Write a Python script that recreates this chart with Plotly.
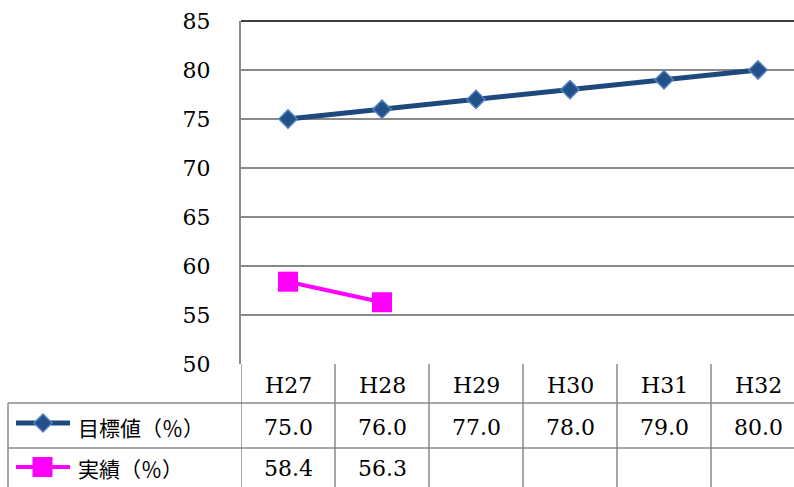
import plotly.graph_objects as go

years = ["H27", "H28", "H29", "H30", "H31", "H32"]
target = [75.0, 76.0, 77.0, 78.0, 79.0, 80.0]
actual = [58.4, 56.3]
target_name = "目標値（％）"
actual_name = "実績（％）"

W, H = 794, 487
L, T, B = 241, 21, 123
pw, ph = W - L, H - T - B
col = 94  # px per category


def px(x):
    return (x - L) / pw


def py(y):
    return (H - B - y) / ph


serif = "DejaVu Serif"
jp = "Noto Sans CJK JP"
grid = "#8a8a8a"

fig = go.Figure()
fig.add_trace(go.Scatter(
    x=years, y=target, mode="lines+markers", name=target_name,
    line=dict(color="#1f497d", width=5),
    marker=dict(symbol="diamond", size=14, color="#24508a",
                line=dict(color="#4f81bd", width=1.5)),
    cliponaxis=False,
))
fig.add_trace(go.Scatter(
    x=years[:len(actual)], y=actual, mode="lines+markers", name=actual_name,
    line=dict(color="#ff00ff", width=4),
    marker=dict(symbol="square", size=20, color="#ff00ff"),
    cliponaxis=False,
))

shapes = []
ann = []
# top border
shapes.append(dict(type="line", xref="paper", yref="paper", x0=0, x1=1, y0=1, y1=1,
                   line=dict(color="black", width=1.5)))

# data table
tcol = dict(color=grid, width=1.5)
r1, r2, rb = py(403), py(448), py(520)
for yy in (r1, r2):
    shapes.append(dict(type="line", xref="paper", yref="paper", x0=px(8), x1=1.05,
                       y0=yy, y1=yy, line=tcol))
shapes.append(dict(type="line", xref="paper", yref="paper", x0=px(8), x1=px(8),
                   y0=r1, y1=rb, line=tcol))
for i in range(len(years)):
    shapes.append(dict(type="line", xref="x", yref="paper", x0=i - 0.5, x1=i - 0.5,
                       y0=0, y1=rb, line=tcol))

rows = [(py(385), None, years), (py(427), target_name, target),
        (py(468), actual_name, actual)]
for yc, label, vals in rows:
    for i, v in enumerate(vals):
        txt = v if isinstance(v, str) else f"{v:.1f}"
        ann.append(dict(x=years[i], y=yc, xref="x", yref="paper", text=txt,
                        xanchor="center", yanchor="middle", showarrow=False,
                        font=dict(family=serif, size=22, color="black")))
    if label:
        ann.append(dict(x=px(76), y=yc, xref="paper", yref="paper", text=label,
                        xanchor="left", yanchor="middle", showarrow=False,
                        font=dict(family=jp, size=21, color="black")))

# legend keys in table
ly1, ly2 = py(423), py(467)
shapes.append(dict(type="line", xref="paper", yref="paper", x0=px(16), x1=px(70),
                   y0=ly1, y1=ly1, line=dict(color="#1f497d", width=5)))
dx, dy = 9 / pw, 9 / ph
cx = px(43)
shapes.append(dict(type="path", xref="paper", yref="paper",
                   path=f"M {cx-dx} {ly1} L {cx} {ly1+dy} L {cx+dx} {ly1} L {cx} {ly1-dy} Z",
                   fillcolor="#24508a", line=dict(color="#4f81bd", width=1.5)))
shapes.append(dict(type="line", xref="paper", yref="paper", x0=px(16), x1=px(70),
                   y0=ly2, y1=ly2, line=dict(color="#ff00ff", width=4)))
sx, sy = 10 / pw, 10 / ph
cx2 = px(42.5)
shapes.append(dict(type="rect", xref="paper", yref="paper", x0=cx2 - sx, x1=cx2 + sx,
                   y0=ly2 - sy, y1=ly2 + sy, fillcolor="#ff00ff", line=dict(width=0)))

fig.update_layout(
    width=W, height=H, margin=dict(l=L, r=0, t=T, b=B),
    paper_bgcolor="white", plot_bgcolor="white", showlegend=False,
    shapes=shapes, annotations=ann,
)
fig.update_xaxes(type="category", range=[-0.5, pw / col - 0.5], showticklabels=False,
                 showgrid=False, zeroline=False, showline=False)
fig.update_yaxes(range=[50, 85], dtick=5, showgrid=True, gridcolor=grid, gridwidth=1.5,
                 showline=True, linecolor=grid, linewidth=2, zeroline=False,
                 ticks="", ticklabelstandoff=24,
                 tickfont=dict(family=serif, size=22, color="black"))

fig.write_html("out.html", config={"displayModeBar": False},
               post_script="document.body.style.margin='0';"
               "document.body.style.overflow='hidden';")
